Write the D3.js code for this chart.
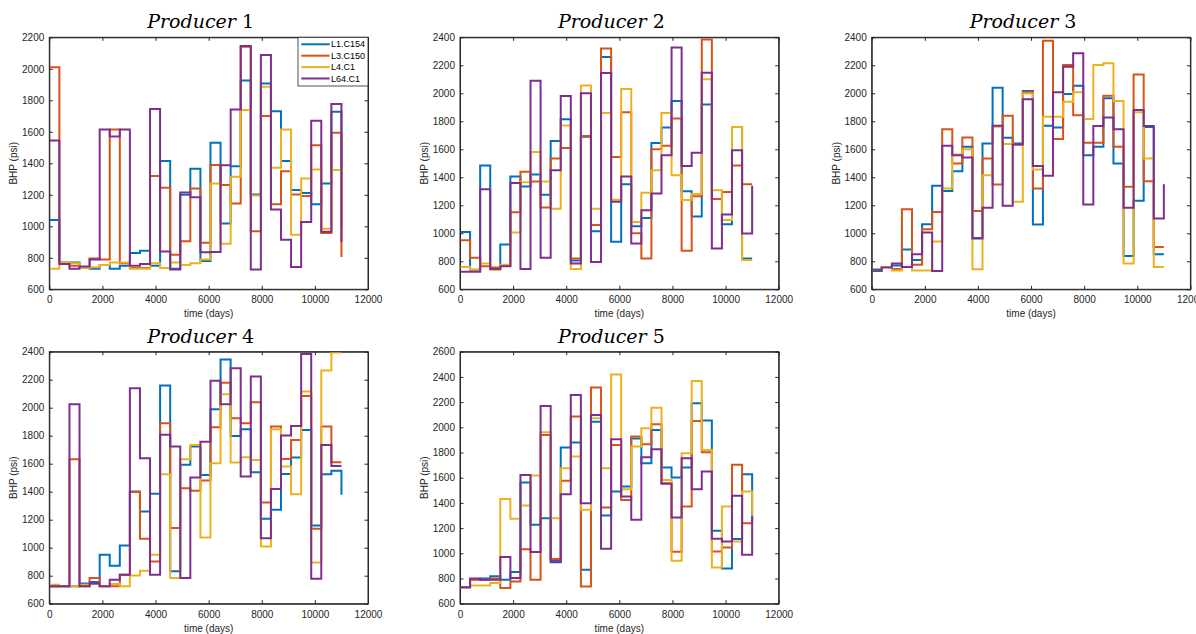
<!DOCTYPE html>
<html>
<head>
<meta charset="utf-8">
<script src="https://cdn.jsdelivr.net/npm/d3@7"></script>
<style>
  body { margin: 0; background: #fff; }
  svg { display: block; }
  .tick text { font-family: "Liberation Sans", Arial, sans-serif; font-size: 10px; fill: #262626; }
  .tick line, .domain { stroke: #262626; }
</style>
</head>
<body>
<svg id="chart" width="1196" height="634"></svg>
<script>
// step start times (days); last entry is the end of the final step
const days = [0, 379, 759, 1138, 1517, 1897, 2276, 2655, 3034, 3414, 3793, 4172, 4552, 4931, 5310,
  5690, 6069, 6448, 6828, 7207, 7586, 7966, 8345, 8724, 9103, 9483, 9862, 10241, 10621, 11000];

const seriesNames = ["L1.C154", "L3.C150", "L4.C1", "L64.C1"];
const colors = ["#0072BD", "#D95319", "#EDB120", "#7E2F8E"];

const xTicks = [0, 2000, 4000, 6000, 8000, 10000, 12000];
const yTicks2200 = [600, 800, 1000, 1200, 1400, 1600, 1800, 2000, 2200];
const yTicks2400 = [600, 800, 1000, 1200, 1400, 1600, 1800, 2000, 2200, 2400];
const yTicks2600 = [600, 800, 1000, 1200, 1400, 1600, 1800, 2000, 2200, 2400, 2600];

// Producer 1
const p1_L1C154 = [1040, 770, 770, 735, 730, 755, 730, 750, 830, 845, 750, 1415, 730, 1200, 1365, 780, 1530, 1017, 1382, 1925, 1202, 1907, 1731, 1414, 1230, 1212, 1140, 1272, 1727, 1000];
const p1_L3C150 = [2010, 760, 750, 740, 795, 790, 1615, 765, 735, 735, 1320, 1245, 820, 905, 1240, 895, 1390, 1262, 1145, 2140, 968, 1700, 1140, 1350, 1202, 1193, 1515, 958, 1594, 805];
const p1_L4C1   = [730, 770, 765, 735, 740, 755, 770, 770, 730, 730, 765, 735, 770, 755, 765, 790, 1272, 890, 1314, 1738, 1195, 1886, 1371, 1615, 947, 1303, 1361, 985, 1357, 975];
const p1_L64C1  = [1545, 760, 730, 745, 790, 1615, 1570, 1615, 750, 760, 1745, 840, 725, 1215, 1185, 835, 837, 1388, 1742, 2145, 725, 2087, 1106, 915, 742, 1028, 1670, 965, 1776, 900];

// Producer 2
const p2_L1C154 = [1010, 740, 1485, 750, 920, 1405, 1335, 1420, 1275, 1660, 1815, 805, 1690, 1015, 2260, 940, 1350, 1050, 1110, 1645, 1755, 1945, 1300, 1120, 1920, 1245, 1065, 1760, 820, 820];
const p2_L3C150 = [950, 825, 765, 755, 770, 1150, 1440, 1370, 1185, 1535, 1610, 820, 1695, 1060, 2320, 1545, 1865, 1000, 820, 1600, 1625, 1820, 875, 1265, 2385, 1245, 1295, 1485, 1350, 1350];
const p2_L4C1   = [760, 740, 785, 740, 775, 1005, 1365, 1580, 1370, 1175, 1770, 745, 2055, 1175, 1860, 1240, 2030, 1080, 1290, 1450, 1860, 1415, 1237, 1280, 2100, 1308, 1095, 1760, 810, 810];
const p2_L64C1  = [725, 725, 1315, 745, 765, 1360, 745, 2090, 825, 1450, 1980, 785, 2000, 795, 2145, 1225, 1405, 927, 1165, 1284, 1558, 2328, 1480, 1575, 2147, 891, 1134, 1594, 998, 1340];

// Producer 3
const p3_L1C154 = [730, 760, 770, 885, 810, 1065, 1339, 1303, 1444, 1618, 967, 1642, 2040, 1682, 1642, 2016, 1062, 1768, 1756, 1995, 2054, 1558, 1618, 1964, 1499, 838, 1232, 1760, 850, 850];
const p3_L3C150 = [740, 760, 745, 1172, 776, 1029, 1153, 1744, 1499, 1685, 1160, 1535, 1349, 1840, 1635, 2007, 1320, 2376, 1673, 2202, 1844, 1647, 1647, 1983, 1618, 1332, 2135, 1372, 903, 903];
const p3_L4C1   = [740, 760, 735, 760, 735, 735, 941, 1320, 1563, 1601, 743, 1415, 1761, 1637, 1225, 1999, 1456, 1833, 1833, 1940, 2007, 1816, 2202, 2214, 1945, 784, 1864, 1535, 760, 760];
const p3_L64C1  = [740, 755, 785, 760, 850, 1005, 731, 1625, 1558, 1542, 962, 1182, 1768, 1196, 1635, 1957, 1480, 1411, 2007, 2190, 2286, 1206, 1766, 1828, 1744, 1182, 1880, 1766, 1105, 1351];

// Producer 4
const p4_L1C154 = [725, 725, 725, 745, 755, 950, 871, 1016, 1401, 1259, 1385, 2158, 831, 1592, 1722, 1520, 1989, 2345, 1798, 1846, 1539, 1206, 1271, 1527, 1644, 1841, 1159, 1525, 1549, 1378];
const p4_L3C150 = [725, 725, 1632, 725, 783, 725, 725, 807, 1397, 1064, 902, 1889, 1140, 1425, 1406, 1480, 1860, 2179, 1924, 1889, 2039, 1323, 1865, 1634, 1770, 2084, 1135, 1865, 1611, 1611];
const p4_L4C1   = [735, 725, 725, 735, 740, 725, 740, 725, 802, 835, 950, 1525, 783, 1632, 1734, 1073, 1603, 2096, 1608, 1646, 1627, 1009, 1846, 1580, 1382, 2115, 895, 2265, 2395, 2395];
const p4_L64C1  = [725, 725, 2024, 725, 745, 725, 771, 807, 2139, 1639, 807, 1806, 1722, 783, 1501, 1756, 2193, 2024, 2281, 1508, 2222, 1068, 1420, 1801, 1870, 2384, 778, 1734, 1584, 1584];

// Producer 5
const p5_L1C154 = [730, 795, 800, 817, 790, 851, 1562, 1226, 1279, 941, 1839, 1879, 869, 2045, 1300, 1490, 1530, 1912, 1715, 1979, 1680, 1601, 1680, 2190, 2053, 1179, 880, 1113, 1628, 1240];
const p5_L3C150 = [730, 790, 790, 800, 724, 777, 1033, 790, 1939, 954, 1575, 2085, 737, 2315, 1364, 1860, 1424, 1926, 1865, 2024, 1556, 1012, 1371, 2050, 1802, 1015, 1047, 1702, 1239, 1239];
const p5_L4C1   = [730, 745, 745, 765, 1430, 1274, 1379, 1617, 1961, 1279, 1675, 1768, 1345, 2072, 1675, 2420, 1509, 1847, 1992, 2156, 1582, 941, 1794, 2367, 1820, 888, 1371, 1094, 1490, 1300];
const p5_L64C1  = [730, 800, 790, 790, 970, 803, 1622, 1010, 2169, 928, 1469, 2257, 1398, 2098, 1036, 1905, 1451, 1266, 1762, 1826, 1551, 1284, 1755, 1509, 1649, 1115, 1094, 1456, 988, 1290];

const panels = [
  { num: "1", yTicks: yTicks2200, left: 49.3, top: 37.3, series: [p1_L1C154, p1_L3C150, p1_L4C1, p1_L64C1], legend: true },
  { num: "2", yTicks: yTicks2400, left: 460, top: 37.3, series: [p2_L1C154, p2_L3C150, p2_L4C1, p2_L64C1] },
  { num: "3", yTicks: yTicks2400, left: 871.7, top: 37.3, series: [p3_L1C154, p3_L3C150, p3_L4C1, p3_L64C1] },
  { num: "4", yTicks: yTicks2400, left: 49.3, top: 351.7, series: [p4_L1C154, p4_L3C150, p4_L4C1, p4_L64C1] },
  { num: "5", yTicks: yTicks2600, left: 460, top: 351.7, series: [p5_L1C154, p5_L3C150, p5_L4C1, p5_L64C1] }
];

const W = 318.7, H = 252;
const tick = 3.5;
const fmt = d3.format("d");
const svg = d3.select("#chart");

panels.forEach(p => {
  const g = svg.append("g").attr("transform", `translate(${p.left},${p.top})`);
  const yMax = p.yTicks[p.yTicks.length - 1];
  const x = d3.scaleLinear().domain([0, 12000]).range([0, W]);
  const y = d3.scaleLinear().domain([600, yMax]).range([H, 0]);

  g.append("rect").attr("width", W).attr("height", H).attr("fill", "#fff");

  // axes, ticks pointing inwards like matlab, box on
  g.append("g").attr("transform", `translate(0,${H})`)
    .call(d3.axisBottom(x).tickValues(xTicks).tickFormat(fmt).tickSizeInner(-tick).tickSizeOuter(0).tickPadding(7));
  g.append("g")
    .call(d3.axisTop(x).tickValues(xTicks).tickSizeInner(-tick).tickSizeOuter(0).tickFormat(""));
  g.append("g")
    .call(d3.axisLeft(y).tickValues(p.yTicks).tickFormat(fmt).tickSizeInner(-tick).tickSizeOuter(0).tickPadding(5));
  g.append("g").attr("transform", `translate(${W},0)`)
    .call(d3.axisRight(y).tickValues(p.yTicks).tickSizeInner(-tick).tickSizeOuter(0).tickFormat(""));
  g.selectAll(".tick text").filter(function () { return this.textContent === ""; }).remove();

  const line = d3.line()
    .x((d, i) => x(days[i]))
    .y(d => y(d))
    .curve(d3.curveStepAfter);

  g.selectAll(".series")
    .data(p.series)
    .enter()
    .append("path")
    .attr("class", "series")
    .attr("d", d => line(d))
    .attr("fill", "none")
    .attr("stroke", (d, i) => colors[i])
    .attr("stroke-width", 2);

  g.append("rect").attr("width", W).attr("height", H)
    .attr("fill", "none").attr("stroke", "#262626").attr("stroke-width", 1);

  // title
  const t = g.append("text")
    .attr("x", W / 2 - 8).attr("y", -9)
    .attr("text-anchor", "middle")
    .style("font-family", "'DejaVu Serif', serif")
    .style("font-size", "19px")
    .style("fill", "#000");
  t.append("tspan").style("font-style", "italic").text("Producer ");
  t.append("tspan").text(p.num);

  g.append("text")
    .attr("x", W / 2).attr("y", H + 28)
    .attr("text-anchor", "middle")
    .style("font-family", "'Liberation Sans', Arial, sans-serif")
    .style("font-size", "10px").style("fill", "#262626")
    .text("time (days)");

  g.append("text")
    .attr("transform", `translate(-32,${H / 2}) rotate(-90)`)
    .attr("text-anchor", "middle")
    .style("font-family", "'Liberation Sans', Arial, sans-serif")
    .style("font-size", "10px").style("fill", "#262626")
    .text("BHP (psi)");

  if (p.legend) {
    const lg = g.append("g").attr("transform", `translate(${W - 70},0)`);
    lg.append("rect").attr("width", 70).attr("height", 48.7)
      .attr("fill", "#fff").attr("stroke", "#262626").attr("stroke-width", 0.8);
    const rows = lg.selectAll(".entry")
      .data(seriesNames)
      .enter()
      .append("g")
      .attr("class", "entry")
      .attr("transform", (d, i) => `translate(0,${7 + i * 11.4})`);
    rows.append("line")
      .attr("x1", 3.3).attr("x2", 31.6)
      .attr("stroke", (d, i) => colors[i]).attr("stroke-width", 2);
    rows.append("text")
      .attr("x", 33).attr("dy", "0.35em")
      .style("font-family", "'Liberation Sans', Arial, sans-serif")
      .style("font-size", "9px").style("fill", "#000")
      .text(d => d);
  }
});
</script>
</body>
</html>
